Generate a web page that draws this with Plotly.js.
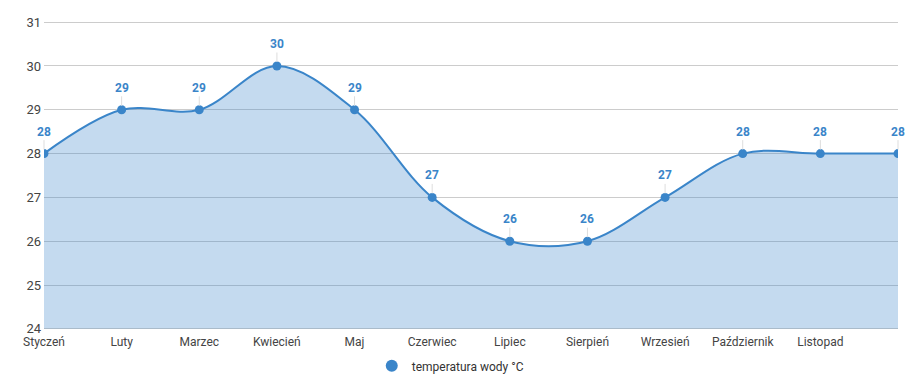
<!DOCTYPE html>
<html>
<head>
<meta charset="utf-8">
<script src="https://cdn.plot.ly/plotly-3.0.1.min.js"></script>
<style>html,body{margin:0;padding:0;background:#fff;}#chart{width:917px;height:390px;}</style>
</head>
<body>
<div id="chart"></div>
<script>
var months = ["Styczeń","Luty","Marzec","Kwiecień","Maj","Czerwiec","Lipiec","Sierpień","Wrzesień","Październik","Listopad","Grudzień"];
var tickLabels = ["Styczeń","Luty","Marzec","Kwiecień","Maj","Czerwiec","Lipiec","Sierpień","Wrzesień","Październik","Listopad"];
var waterTemp = [28,29,29,30,29,27,26,26,27,28,28,28];
var seriesName = "temperatura wody °C";
var yTicks = [24,25,26,27,28,29,30,31];

var blue = "#3a85c9";
var baseline = {
  x: months, y: months.map(function(){ return yTicks[0]; }), type: "scatter", mode: "lines",
  line: {width: 0, color: "rgba(0,0,0,0)"}, showlegend: false, hoverinfo: "skip"
};
var trace = {
  x: months, y: waterTemp, type: "scatter", mode: "lines+markers",
  name: seriesName, showlegend: false,
  line: {color: blue, width: 2, shape: "spline", smoothing: 1},
  marker: {color: blue, size: 9},
  fill: "tonexty", fillcolor: "rgba(58,133,201,0.3)",
  hoverinfo: "x+y"
};
var legendTrace = {
  x: [null], y: [null], type: "scatter", mode: "markers",
  name: seriesName, showlegend: true,
  marker: {color: blue, size: 11}
};

var annotations = months.map(function(m, i){
  return {
    x: m, y: waterTemp[i], xref: "x", yref: "y",
    text: "<b>" + waterTemp[i] + "</b>",
    showarrow: true, arrowhead: 0, arrowwidth: 1, arrowcolor: "#dddddd",
    ax: 0, ay: -22, standoff: 4,
    font: {family: "Roboto, sans-serif", size: 12, color: blue}
  };
});

var layout = {
  width: 917, height: 390,
  margin: {l: 44, r: 19, t: 20, b: 59},
  paper_bgcolor: "#fff", plot_bgcolor: "#fff",
  font: {family: "Roboto, sans-serif", color: "#444"},
  showlegend: true,
  legend: {orientation: "h", x: 0.491, xanchor: "center", xref: "container",
           y: 0.062, yanchor: "middle", yref: "container",
           font: {size: 12, color: "#333"}, itemsizing: "constant", itemwidth: 30},
  xaxis: {
    type: "category", range: [0, 11], tickvals: tickLabels, ticktext: tickLabels,
    showgrid: false, zeroline: false, showline: false, ticks: "",
    tickfont: {size: 12, color: "#444"}, automargin: false, ticklabelstandoff: 2
  },
  yaxis: {
    range: [23.95, 31.05], tickvals: yTicks, showgrid: true, gridcolor: "#cccccc", gridwidth: 1,
    zeroline: false, showline: false, ticks: "", tickfont: {size: 13, color: "#444"},
    automargin: false, ticklabelstandoff: 2
  },
  annotations: annotations
};

Plotly.newPlot("chart", [baseline, trace, legendTrace], layout, {displayModeBar: false});
</script>
</body>
</html>
